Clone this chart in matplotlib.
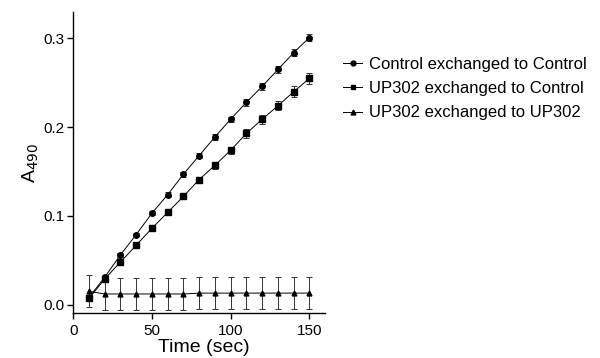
import matplotlib
matplotlib.use("Agg")
import matplotlib.pyplot as plt
from matplotlib.lines import Line2D
import numpy as np

plt.rcParams['font.family'] = ['Liberation Sans', 'DejaVu Sans']

time = [10, 20, 30, 40, 50, 60, 70, 80, 90, 100, 110, 120, 130, 140, 150]
ctrl_ctrl = [0.008, 0.031, 0.056, 0.079, 0.103, 0.124, 0.147, 0.168, 0.189, 0.209, 0.228, 0.246, 0.265, 0.284, 0.301]
ctrl_err = [0.002, 0.002, 0.002, 0.002, 0.002, 0.003, 0.003, 0.003, 0.003, 0.003, 0.004, 0.004, 0.004, 0.004, 0.004]
up_ctrl = [0.007, 0.029, 0.048, 0.067, 0.086, 0.104, 0.122, 0.141, 0.157, 0.174, 0.193, 0.209, 0.224, 0.240, 0.255]
up_ctrl_err = [0.002, 0.002, 0.002, 0.002, 0.002, 0.003, 0.003, 0.003, 0.004, 0.004, 0.005, 0.005, 0.005, 0.006, 0.006]
up_up = [0.015, 0.012, 0.012, 0.012, 0.012, 0.012, 0.012, 0.013, 0.013, 0.013, 0.013, 0.013, 0.013, 0.013, 0.013]
up_up_err = [0.018, 0.018, 0.018, 0.018, 0.018, 0.018, 0.018, 0.018, 0.018, 0.018, 0.018, 0.018, 0.018, 0.018, 0.018]
labels = ["Control exchanged to Control", "UP302 exchanged to Control", "UP302 exchanged to UP302"]
markers = ['o', 's', '^']
msizes = [4, 4, 3.5]

fig = plt.figure(figsize=(6, 3.58), dpi=100)
ax = fig.add_axes([0.122, 0.126, 0.42, 0.841])

line_kw = dict(color='black', lw=0.7, ecolor='#333333', elinewidth=0.7, capsize=2, capthick=0.7)
for y, e, m, ms in zip([ctrl_ctrl, up_ctrl, up_up], [ctrl_err, up_ctrl_err, up_up_err], markers, msizes):
    ax.errorbar(time, y, yerr=e, marker=m, ms=ms, **line_kw)

ax.set_xlim(0, 160)
ax.set_ylim(-0.0093, 0.33)
ax.set_xticks([0, 50, 100, 150])
ax.set_yticks([0.0, 0.1, 0.2, 0.3])
ax.set_yticklabels(["0.0", "0.1", "0.2", "0.3"])
for s in ['top', 'right']:
    ax.spines[s].set_visible(False)
for s in ['left', 'bottom']:
    ax.spines[s].set_linewidth(1.0)
ax.tick_params(direction='out', length=4, width=1.0, labelsize=11)
ax.tick_params(axis='x', pad=4)
ax.tick_params(axis='y', pad=2)
ax.set_xlabel("Time (sec)", fontsize=14)
ax.xaxis.set_label_coords(0.52, -0.087)
ax.set_ylabel("A$_{490}$", fontsize=14, labelpad=2)

handles = [Line2D([], [], color='black', lw=0.7, marker=m, ms=3.5) for m in markers]
fig.legend(handles, labels, loc='center left', bbox_to_anchor=(0.572, 0.752), frameon=False,
           fontsize=12, handlelength=1.15, handletextpad=0.4, labelspacing=0.55,
           borderaxespad=0, borderpad=0)

fig.savefig("out.png", dpi=100)
